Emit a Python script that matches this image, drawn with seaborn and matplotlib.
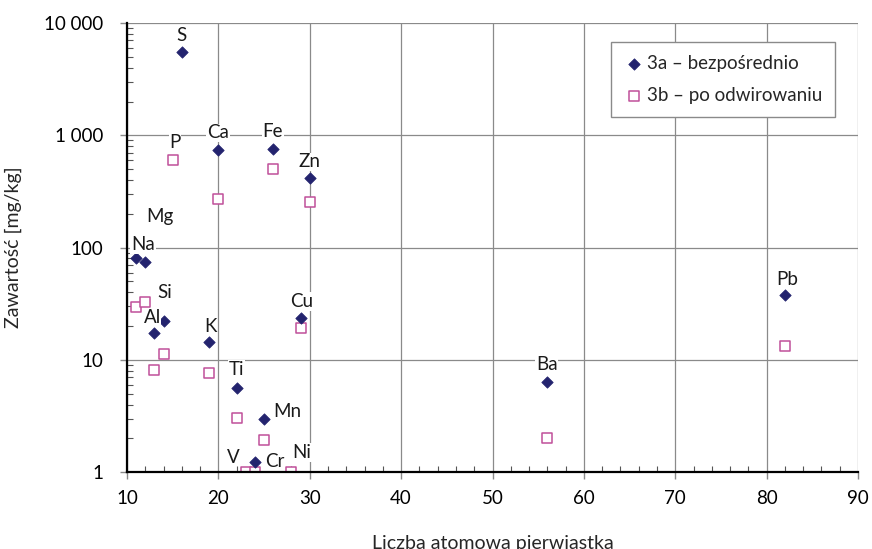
import numpy as np
import pandas as pd
import matplotlib
matplotlib.use('Agg')
import matplotlib.pyplot as plt
import matplotlib.ticker as mticker
import seaborn as sns

# ------------------------------------------------------------
# Data
# ------------------------------------------------------------
a_elements = ['S', 'Ca', 'Fe', 'Zn', 'Na', 'Mg', 'Si', 'Al', 'K', 'Cu',
              'Ti', 'Mn', 'Cr', 'Ba', 'Pb']
a_z = [16, 20, 26, 30, 11, 12, 14, 13, 19, 29, 22, 25, 24, 56, 82]
a_vals = [5500, 740, 760, 420, 80, 75, 22.4, 17.2, 14.3, 23.4,
          5.6, 2.95, 1.22, 6.4, 37.5]

b_elements = ['P', 'Ca', 'Fe', 'Zn', 'Na', 'Mg', 'Si', 'Al', 'K', 'Cu',
              'Ti', 'Mn', 'V', 'Cr', 'Ni', 'Ba', 'Pb']
b_z = [15, 20, 26, 30, 11, 12, 14, 13, 19, 29, 22, 25, 23, 24, 28, 56, 82]
b_vals = [600, 272, 505, 256, 29.3, 33, 11.2, 8.1, 7.7, 19.4,
          3.05, 1.95, 1.0, 1.0, 1.0, 2.0, 13.2]

# element labels (name, x, y in data units)
label_names = ['S', 'P', 'Ca', 'Fe', 'Zn', 'Mg', 'Na', 'Si', 'Al', 'K',
               'Cu', 'Ti', 'Mn', 'V', 'Cr', 'Ni', 'Ba', 'Pb']
label_x = [16.0, 15.25, 19.95, 25.95, 30.0, 13.6, 11.75, 14.15, 12.75, 19.1,
           29.15, 22.0, 27.6, 21.6, 26.2, 29.15, 55.95, 82.2]
label_y = [7800, 860, 1050, 1075, 580, 190, 106, 40, 24, 20,
           33, 8.2, 3.5, 1.36, 1.25, 1.5, 9.1, 52]

series_names = ['3a \u2013 bezpo\u015brednio', '3b \u2013 po odwirowaniu']

df_a = pd.DataFrame({'z': a_z, 'val': a_vals, 'el': a_elements})
df_b = pd.DataFrame({'z': b_z, 'val': b_vals, 'el': b_elements})

# ------------------------------------------------------------
# Plot
# ------------------------------------------------------------
sns.set_style('white')
plt.rcParams['font.family'] = ['Lato', 'DejaVu Sans']

fig, ax = plt.subplots(figsize=(8.72, 5.49), dpi=100)
fig.subplots_adjust(left=0.1456, right=0.984, top=0.958, bottom=0.14)

navy = '#23236e'
pink = '#c0509a'
fs = 13.5

sns.scatterplot(data=df_b, x='z', y='val', ax=ax, marker='s', s=52,
                facecolor='white', edgecolor=pink, linewidth=1.1,
                label=series_names[1], zorder=3)
sns.scatterplot(data=df_a, x='z', y='val', ax=ax, marker='D', s=34,
                color=navy, edgecolor=navy, linewidth=0.5,
                label=series_names[0], zorder=4)

for name, lx, ly in zip(label_names, label_x, label_y):
    ax.text(lx, ly, name, ha='center', va='center', fontsize=fs,
            color='#1a1a1a', zorder=5,
            bbox=dict(facecolor='white', edgecolor='none', pad=0.5))

ax.set_yscale('log')
ax.set_xlim(10, 90)
ax.set_ylim(1, 10000)
ax.set_xticks(range(10, 91, 10))
ax.xaxis.set_minor_locator(mticker.MultipleLocator(2))
ax.set_yticks([1, 10, 100, 1000, 10000])
ax.set_yticklabels(['1', '10', '100', '1 000', '10 000'])
ax.yaxis.set_minor_locator(mticker.LogLocator(base=10, subs=np.arange(2, 10)))
ax.yaxis.set_minor_formatter(mticker.NullFormatter())

ax.grid(True, which='major', color='#8a8a8a', linewidth=0.9)
ax.set_axisbelow(True)

ax.tick_params(axis='both', which='major', direction='out', length=5,
               width=1.0, labelsize=fs, color='#8a8a8a',
               labelcolor='black', pad=12)
ax.tick_params(axis='both', which='minor', direction='in', length=4,
               width=0.8, color='#555555')
ax.tick_params(axis='x', which='both', bottom=True, top=False)
ax.tick_params(axis='y', which='both', left=True, right=False)
ax.tick_params(axis='x', which='major', pad=8)

for side in ['top', 'right']:
    ax.spines[side].set_visible(False)
for side in ['left', 'bottom']:
    ax.spines[side].set_color('black')
    ax.spines[side].set_linewidth(1.6)
    ax.spines[side].set_zorder(6)

ax.set_xlabel('Liczba atomowa pierwiastka', fontsize=fs + 0.5, labelpad=20)
ax.set_ylabel('Zawarto\u015b\u0107 [mg/kg]', fontsize=fs + 0.5, labelpad=16)

handles, labels = ax.get_legend_handles_labels()
leg = ax.legend(handles[::-1], labels[::-1], loc='upper right',
                bbox_to_anchor=(0.969, 0.958), fontsize=fs, frameon=True,
                fancybox=False, edgecolor='#8a8a8a', framealpha=1,
                handletextpad=0.2, labelspacing=0.8, borderpad=0.7,
                handlelength=1.0, borderaxespad=0)
leg.get_frame().set_linewidth(1.0)

plt.savefig('out.png', dpi=100)
plt.close()
